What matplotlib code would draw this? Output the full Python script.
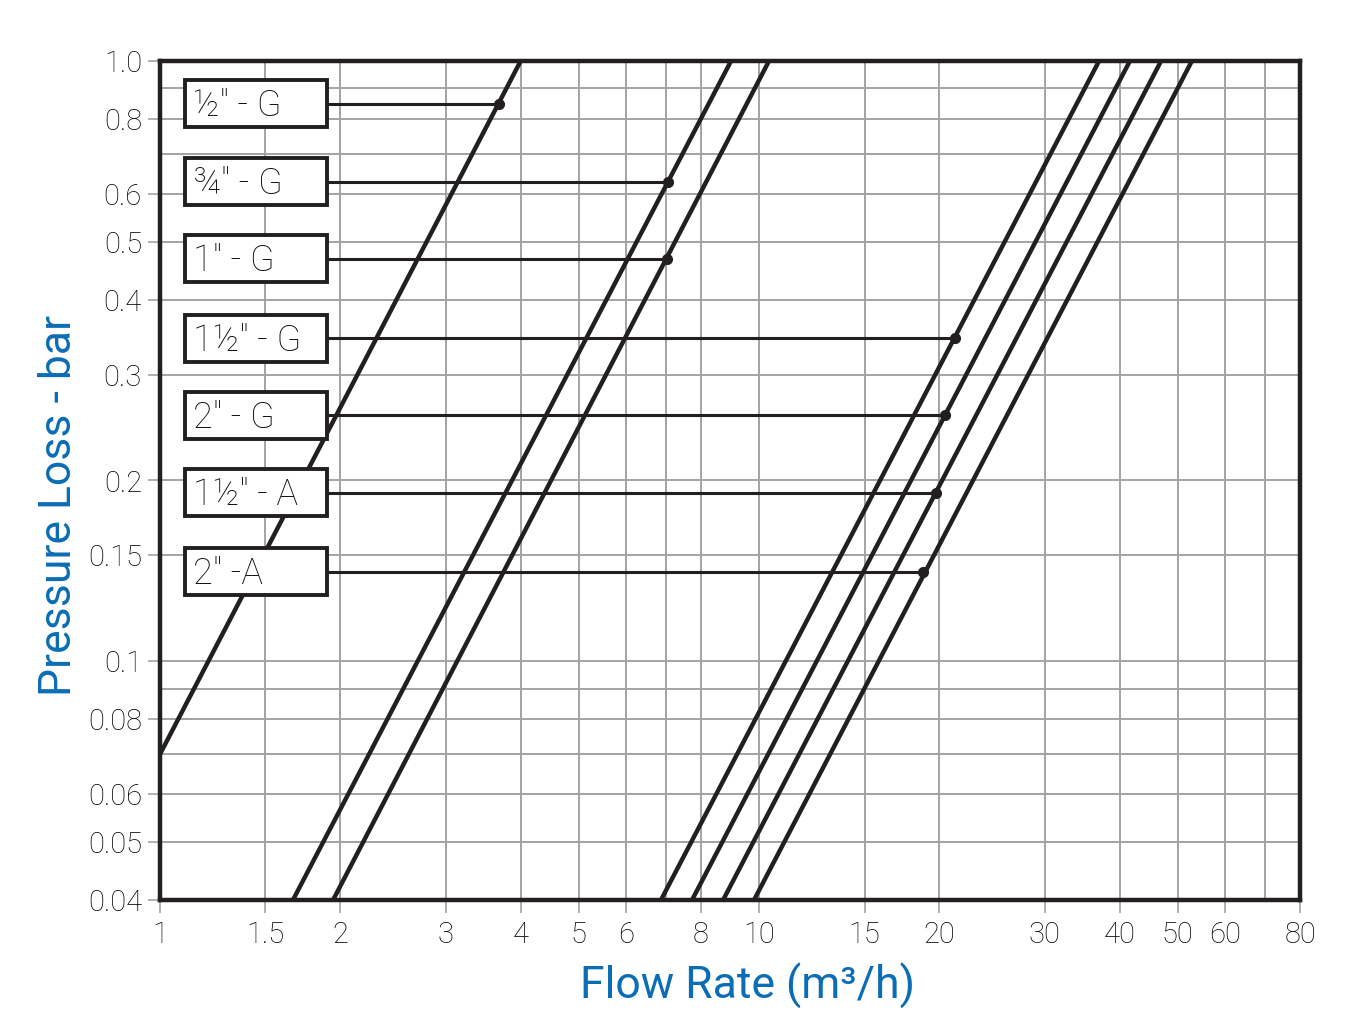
import numpy as np
import matplotlib
matplotlib.use("Agg")
import matplotlib.pyplot as plt
from matplotlib.patches import Rectangle

# valve sizes
labels = ['½" - G', '¾" - G', '1" - G', '1½" - G', '2" - G', '1½" - A', '2" -A']

# each line is straight on log-log: (flow, pressure) at two ends
flow_start = [1.0, 1.667, 1.945, 6.86, 7.73, 8.71, 9.81]
loss_start = [0.07, 0.04, 0.04, 0.04, 0.04, 0.04, 0.04]
flow_end = [4.0, 8.98, 10.39, 36.95, 41.6, 46.9, 52.8]
loss_end = [1.0, 1.0, 1.0, 1.0, 1.0, 1.0, 1.0]

# marker on each line where the label leader ends
marker_flow = [3.68, 7.05, 7.03, 21.2, 20.4, 19.75, 18.8]
marker_loss = [0.848, 0.629, 0.468, 0.345, 0.257, 0.191, 0.141]

x_grid = [1, 1.5, 2, 3, 4, 5, 6, 7, 8, 10, 15, 20, 30, 40, 50, 60, 70, 80]
x_ticks = [1, 1.5, 2, 3, 4, 5, 6, 8, 10, 15, 20, 30, 40, 50, 60, 80]
x_ticklabels = ["1", "1.5", "2", "3", "4", "5", "6", "8", "10", "15", "20",
                "30", "40", "50", "60", "80"]
y_grid = [0.04, 0.05, 0.06, 0.07, 0.08, 0.09, 0.1, 0.15, 0.2, 0.3, 0.4,
          0.5, 0.6, 0.7, 0.8, 0.9, 1.0]
y_ticks = [0.04, 0.05, 0.06, 0.08, 0.1, 0.15, 0.2, 0.3, 0.4, 0.5, 0.6, 0.8, 1.0]
y_ticklabels = ["0.04", "0.05", "0.06", "0.08", "0.1", "0.15", "0.2", "0.3",
                "0.4", "0.5", "0.6", "0.8", "1.0"]

plt.rcParams['font.family'] = ['Roboto', 'DejaVu Sans']
ink = "#231f20"
blue = "#0a6db5"
grid_col = "#a3a3a3"

fig = plt.figure(figsize=(13.5, 10.22), dpi=100)
ax = fig.add_axes([160 / 1350, 1 - 900 / 1022, 1140 / 1350, 839 / 1022])
ax.set_xscale("log")
ax.set_yscale("log")
ax.set_xlim(1, 80)
ax.set_ylim(0.04, 1.0)

# grid
for gx in x_grid:
    ax.axvline(gx, color=grid_col, lw=1.4, zorder=1)
for gy in y_grid:
    ax.axhline(gy, color=grid_col, lw=1.4, zorder=1)

# pressure loss lines
for i in range(len(labels)):
    ax.plot([flow_start[i], flow_end[i]], [loss_start[i], loss_end[i]],
            color=ink, lw=3.2, solid_capstyle="butt", zorder=3)

# label boxes with leaders
box_x0, box_x1 = 25 / 1140, 167 / 1140
box_h = 47 / 839
ylo, yhi = ax.get_ylim()
for i, lab in enumerate(labels):
    ymid = np.log10(marker_loss[i] / ylo) / np.log10(yhi / ylo)
    ax.add_patch(Rectangle((box_x0, ymid - box_h / 2), box_x1 - box_x0, box_h,
                           transform=ax.transAxes, facecolor="white",
                           edgecolor=ink, lw=2.8, zorder=5))
    ax.text(box_x0 + 0.007, ymid - 0.003, lab,
            transform=ax.transAxes, ha="left", va="center", fontsize=26,
            color="#111111", zorder=6, fontweight="light")
    xstart = 10 ** (box_x1 * np.log10(80))
    ax.plot([xstart, marker_flow[i]], [marker_loss[i], marker_loss[i]],
            color=ink, lw=2.2, zorder=4)
    ax.plot(marker_flow[i], marker_loss[i], "o", color=ink, ms=7, zorder=6)

ax.set_xticks(x_ticks)
ax.set_xticklabels(x_ticklabels)
ax.set_yticks(y_ticks)
ax.set_yticklabels(y_ticklabels)
ax.minorticks_off()
ax.tick_params(axis="both", direction="out", length=9, width=1.2,
               color=grid_col, labelsize=21, labelcolor="#000000")
ax.tick_params(axis="x", pad=6)
ax.tick_params(axis="y", pad=4)
for lab in ax.get_xticklabels() + ax.get_yticklabels():
    lab.set_fontweight("light")

for s in ax.spines.values():
    s.set_linewidth(3.2)
    s.set_color(ink)
    s.set_zorder(7)

ax.set_xlabel("Flow Rate (m³/h)", fontsize=32, color=blue)
ax.set_ylabel("Pressure Loss - bar", fontsize=32, color=blue)
ax.xaxis.set_label_coords(0.515, -0.075)
ax.yaxis.set_label_coords(-0.07, 0.47)

fig.savefig("out.png", dpi=100)
